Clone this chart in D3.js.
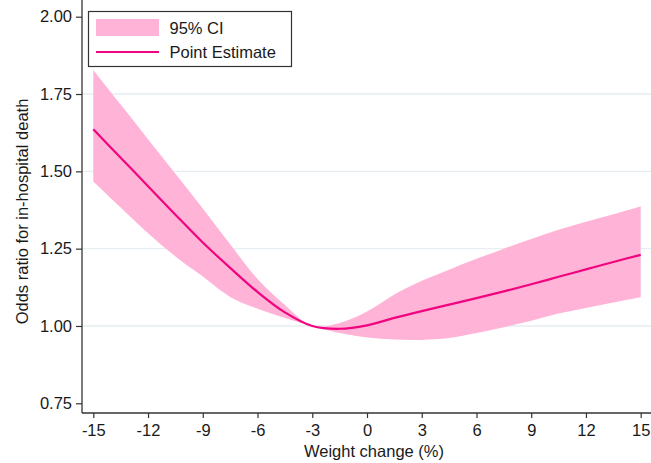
<!DOCTYPE html>
<html>
<head>
<meta charset="utf-8">
<script src="https://cdn.jsdelivr.net/npm/d3@7"></script>
<style>
  body { margin: 0; background: #fff; }
  svg text { font-family: "Liberation Sans", Arial, sans-serif; fill: #1a1a1a; }
</style>
</head>
<body>
<div class="content"></div>
<script>
//--> Data
const weightChange = [-15, -13.5, -12, -10.5, -9, -7.5, -6, -4.5, -3, -1.5, 0, 1.5, 3, 4.5, 6, 7.5, 9, 10.5, 12, 13.5, 15];
const pointEstimate = [1.636, 1.544, 1.452, 1.360, 1.270, 1.188, 1.110, 1.044, 1.000, 0.991, 1.002, 1.026, 1.048, 1.069, 1.090, 1.112, 1.135, 1.159, 1.183, 1.207, 1.230];
const ciUpper = [1.828, 1.716, 1.604, 1.492, 1.380, 1.264, 1.152, 1.068, 1.000, 1.010, 1.047, 1.102, 1.146, 1.182, 1.217, 1.250, 1.281, 1.311, 1.337, 1.361, 1.386];
const ciLower = [1.467, 1.383, 1.300, 1.225, 1.160, 1.094, 1.056, 1.026, 1.000, 0.977, 0.963, 0.956, 0.955, 0.961, 0.977, 0.996, 1.017, 1.040, 1.058, 1.076, 1.093];

const xTicks = [-15, -12, -9, -6, -3, 0, 3, 6, 9, 12, 15];
const yTicks = [0.75, 1.0, 1.25, 1.5, 1.75, 2.0];
const gridValues = [1.0, 1.25, 1.5, 1.75];

const legendLabels = ["95% CI", "Point Estimate"];

//--> Set up main elements
const width = 651;
const height = 463;

const bandColor = "#ffb3d7";
const lineColor = "#f0047f";
const axisColor = "#333";

const x = d3.scaleLinear().domain([-15, 15]).range([93.3, 640.7]);
const y = d3.scaleLinear().domain([0.75, 2.0]).range([403.3, 16.7]);

const axisX = 82;
const axisY = 413;

const svg = d3
  .select(".content")
  .append("svg")
  .attr("width", width)
  .attr("height", height);

const rows = weightChange.map((w, i) => ({
  w,
  est: pointEstimate[i],
  lo: ciLower[i],
  hi: ciUpper[i],
}));

//--> Gridlines
svg
  .append("g")
  .selectAll("line")
  .data(gridValues)
  .join("line")
  .attr("x1", axisX)
  .attr("x2", width)
  .attr("y1", d => y(d))
  .attr("y2", d => y(d))
  .attr("stroke", "#e6eef1")
  .attr("stroke-width", 1.3);

//--> CI band and point estimate
const curve = d3.curveCatmullRom.alpha(0.5);

const area = d3
  .area()
  .x(d => x(d.w))
  .y0(d => y(d.lo))
  .y1(d => y(d.hi))
  .curve(curve);

const line = d3
  .line()
  .x(d => x(d.w))
  .y(d => y(d.est))
  .curve(curve);

svg.append("path").datum(rows).attr("d", area).attr("fill", bandColor);

svg
  .append("path")
  .datum(rows)
  .attr("d", line)
  .attr("fill", "none")
  .attr("stroke", lineColor)
  .attr("stroke-width", 2.2);

//--> Axes
const xAxis = svg
  .append("g")
  .attr("transform", `translate(0, ${axisY})`)
  .call(
    d3
      .axisBottom(x)
      .tickValues(xTicks)
      .tickSize(5)
      .tickPadding(6)
      .tickFormat(d => String(d))
  );

xAxis.select(".domain").remove();
xAxis
  .append("line")
  .attr("x1", axisX)
  .attr("x2", width)
  .attr("stroke", axisColor)
  .attr("stroke-width", 1.3);

const yAxis = svg
  .append("g")
  .attr("transform", `translate(${axisX}, 0)`)
  .call(d3.axisLeft(y).tickValues(yTicks).tickSize(6).tickPadding(4).tickFormat(d => d.toFixed(2)));

yAxis.select(".domain").remove();
yAxis
  .append("line")
  .attr("y1", 0)
  .attr("y2", axisY)
  .attr("stroke", axisColor)
  .attr("stroke-width", 1.3);

svg.selectAll(".tick line").attr("stroke", axisColor).attr("stroke-width", 1.2);
svg
  .selectAll(".tick text")
  .style("font-size", "16.5px")
  .attr("fill", "#1a1a1a");

//--> Axis titles
svg
  .append("text")
  .attr("x", 374)
  .attr("y", 457)
  .attr("text-anchor", "middle")
  .style("font-size", "16.5px")
  .text("Weight change (%)");

svg
  .append("text")
  .attr("transform", "translate(28, 211.5) rotate(-90)")
  .attr("text-anchor", "middle")
  .style("font-size", "16.5px")
  .text("Odds ratio for in-hospital death");

//--> Legend
const legend = svg.append("g").attr("id", "legend");

legend
  .append("rect")
  .attr("x", 88.5)
  .attr("y", 11.5)
  .attr("width", 203)
  .attr("height", 55)
  .attr("fill", "#fff")
  .attr("stroke", axisColor)
  .attr("stroke-width", 1.2);

legend
  .append("rect")
  .attr("x", 96)
  .attr("y", 19)
  .attr("width", 63)
  .attr("height", 17)
  .attr("fill", bandColor);

legend
  .append("line")
  .attr("x1", 96)
  .attr("x2", 159)
  .attr("y1", 52)
  .attr("y2", 52)
  .attr("stroke", lineColor)
  .attr("stroke-width", 2.2);

legend
  .selectAll("text")
  .data(legendLabels)
  .join("text")
  .attr("x", 169.5)
  .attr("y", (_, i) => 33.5 + i * 24.5)
  .style("font-size", "16.5px")
  .text(d => d);
</script>
</body>
</html>
